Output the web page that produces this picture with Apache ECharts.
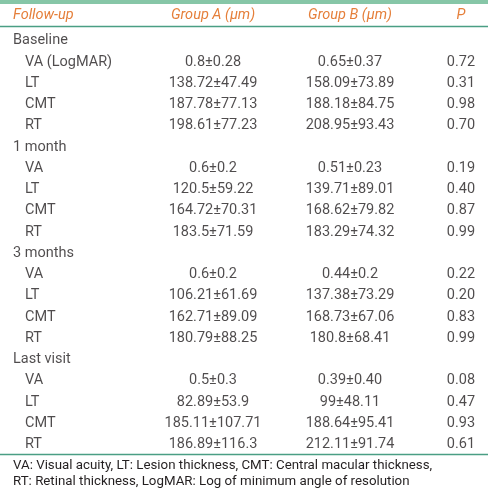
<!DOCTYPE html>
<html><head><meta charset="utf-8">
<script src="https://cdn.jsdelivr.net/npm/echarts@6/dist/echarts.min.js"></script>
<style>html,body{margin:0;padding:0;background:#fff}#c{width:488px;height:490px}</style>
</head><body><div id="c"></div>
<script>
// ---- data ----
const headers = ['Follow-up', 'Group A (\u03bcm)', 'Group B (\u03bcm)', 'P'];
const rowLabels = ['Baseline','VA (LogMAR)','LT','CMT','RT',
  '1 month','VA','LT','CMT','RT',
  '3 months','VA','LT','CMT','RT',
  'Last visit','VA','LT','CMT','RT'];
const isGroupRow = [1,0,0,0,0, 1,0,0,0,0, 1,0,0,0,0, 1,0,0,0,0];
const groupA = ['', '0.8\u00b10.28','138.72\u00b147.49','187.78\u00b177.13','198.61\u00b177.23',
  '', '0.6\u00b10.2','120.5\u00b159.22','164.72\u00b170.31','183.5\u00b171.59',
  '', '0.6\u00b10.2','106.21\u00b161.69','162.71\u00b189.09','180.79\u00b188.25',
  '', '0.5\u00b10.3','82.89\u00b153.9','185.11\u00b1107.71','186.89\u00b1116.3'];
const groupB = ['', '0.65\u00b10.37','158.09\u00b173.89','188.18\u00b184.75','208.95\u00b193.43',
  '', '0.51\u00b10.23','139.71\u00b189.01','168.62\u00b179.82','183.29\u00b174.32',
  '', '0.44\u00b10.2','137.38\u00b173.29','168.73\u00b167.06','180.8\u00b168.41',
  '', '0.39\u00b10.40','99\u00b148.11','188.64\u00b195.41','212.11\u00b191.74'];
const pValues = ['', '0.72','0.31','0.98','0.70',
  '', '0.19','0.40','0.87','0.99',
  '', '0.22','0.20','0.83','0.99',
  '', '0.08','0.47','0.93','0.61'];
const footnotes = ['VA: Visual acuity, LT: Lesion thickness, CMT: Central macular thickness,',
  'RT: Retinal thickness, LogMAR: Log of minimum angle of resolution'];

// ---- layout ----
const W = 488;
const colX = { label: 13, indent: 25, a: 213, b: 350, p: 461 };
const FONT = 'Roboto, "Liberation Sans", sans-serif';
const TEXT = '#231f20';
const ORANGE = '#e57f3a';
const TEAL = '#4a9e84';
const BAR = '#86c6a7';
const FS = 14.5;

const rowIdx = rowLabels.map((_, i) => String(i));

function textSeries(name, xs, texts, align) {
  return {
    name, type: 'scatter', symbolSize: 0, silent: true,
    data: texts.map((t, i) => ({ value: [xs(i), String(i)], txt: t })),
    label: { show: true, position: 'inside', align: align, verticalAlign: 'middle',
      fontFamily: FONT, fontSize: FS, color: TEXT,
      formatter: p => p.data.txt },
    animation: false
  };
}

function headerText(x, t, align) {
  return { type: 'text', x: x, y: 15, style: { text: t, font: 'italic ' + FS + 'px ' + FONT, fill: ORANGE, textAlign: align, textVerticalAlign: 'middle' } };
}

const chart = echarts.init(document.getElementById('c'), null, { renderer: 'canvas' });
chart.setOption({
  animation: false,
  grid: { left: 0, right: 0, top: 30, bottom: 35 },
  xAxis: { type: 'value', min: 0, max: W, show: false },
  yAxis: { type: 'category', data: rowIdx, inverse: true, show: false },
  series: [
    textSeries('labels', i => isGroupRow[i] ? colX.label : colX.indent, rowLabels, 'left'),
    textSeries('groupA', () => colX.a, groupA, 'center'),
    textSeries('groupB', () => colX.b, groupB, 'center'),
    textSeries('p', () => colX.p, pValues, 'center')
  ],
  graphic: [
    { type: 'rect', shape: { x: 0, y: 0, width: W, height: 4 }, style: { fill: BAR } },
    { type: 'line', shape: { x1: 0, y1: 26.5, x2: W, y2: 26.5 }, style: { stroke: TEAL, lineWidth: 1.3 } },
    { type: 'line', shape: { x1: 0, y1: 454.5, x2: W, y2: 454.5 }, style: { stroke: TEAL, lineWidth: 1.3 } },
    headerText(colX.label, headers[0], 'left'),
    headerText(colX.a, headers[1], 'center'),
    headerText(colX.b, headers[2], 'center'),
    headerText(colX.p, headers[3], 'center'),
    { type: 'text', x: colX.label, y: 466, style: { text: footnotes[0], font: '13.3px ' + FONT, fill: TEXT, textAlign: 'left', textVerticalAlign: 'middle' } },
    { type: 'text', x: colX.label, y: 482, style: { text: footnotes[1], font: '13.3px ' + FONT, fill: TEXT, textAlign: 'left', textVerticalAlign: 'middle' } }
  ]
});
</script>
</body></html>
